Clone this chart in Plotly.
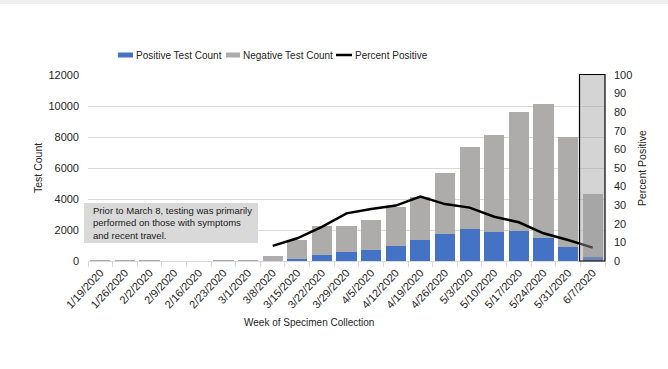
import plotly.graph_objects as go

weeks = ["1/19/2020", "1/26/2020", "2/2/2020", "2/9/2020", "2/16/2020", "2/23/2020",
         "3/1/2020", "3/8/2020", "3/15/2020", "3/22/2020", "3/29/2020", "4/5/2020",
         "4/12/2020", "4/19/2020", "4/26/2020", "5/3/2020", "5/10/2020", "5/17/2020",
         "5/24/2020", "5/31/2020", "6/7/2020"]
positive = [0, 0, 0, 0, 0, 0, 0, 20, 150, 400, 560, 710, 990, 1360, 1760, 2070,
            1900, 1940, 1510, 910, 280]
negative = [40, 50, 45, 0, 0, 30, 40, 280, 1230, 1830, 1670, 1940, 2470, 2790,
            3940, 5260, 6230, 7650, 8640, 7110, 4040]
percent = [None, None, None, None, None, None, None, 8.1, 12.2, 18.4, 25.6, 28.0,
           29.8, 34.6, 30.6, 28.7, 23.8, 20.8, 14.9, 11.3, 7.2]
y_ticks = [0, 2000, 4000, 6000, 8000, 10000, 12000]
pct_ticks = [0, 10, 20, 30, 40, 50, 60, 70, 80, 90, 100]
series_names = ["Positive Test Count", "Negative Test Count", "Percent Positive"]
series_colors = ["#4472C4", "#AEABAB", "black"]

FONT = "Liberation Sans, Arial, sans-serif"
TXT = "#262626"

fig = go.Figure()
fig.add_trace(go.Bar(x=weeks, y=positive, name=series_names[0],
                     marker=dict(color=series_colors[0], line=dict(width=0))))
fig.add_trace(go.Bar(x=weeks, y=negative, name=series_names[1],
                     marker=dict(color=series_colors[1], line=dict(width=0))))
fig.add_trace(go.Scatter(x=weeks, y=percent, name=series_names[2], yaxis="y2",
                         mode="lines", line=dict(color=series_colors[2], width=2.5)))

W, H = 668, 369
L, R, T, B = 88, 63, 75, 108
pw, ph = W - L - R, H - T - B

def px(x):
    return (x - L) / pw

def py(y):
    return (H - B - y) / ph

fig.update_layout(
    width=W, height=H,
    margin=dict(l=L, r=R, t=T, b=B, autoexpand=False),
    paper_bgcolor="white", plot_bgcolor="white",
    barmode="stack", bargap=0.18,
    font=dict(family=FONT, size=11, color=TXT),
    showlegend=False,
    xaxis=dict(type="category", tickangle=-47, ticks="outside", tickson="boundaries",
               ticklen=5, tickcolor="#d9d9d9", showline=True, linecolor="#d9d9d9",
               linewidth=1, showgrid=False, automargin=False,
               tickfont=dict(family=FONT, size=11, color=TXT)),
    yaxis=dict(range=[0, 12000], tickvals=y_ticks, tickformat="d", showgrid=True,
               gridcolor="#d9d9d9", gridwidth=1, zeroline=False, ticks="",
               ticklabelstandoff=8, automargin=False,
               tickfont=dict(family=FONT, size=11, color=TXT)),
    yaxis2=dict(range=[0, 100], tickvals=pct_ticks, overlaying="y", side="right",
                showgrid=False, zeroline=False, ticks="", ticklabelstandoff=8,
                automargin=False, tickfont=dict(family=FONT, size=11, color=TXT)),
)

shapes = [
    # top page band
    dict(type="rect", xref="paper", yref="paper", x0=px(0), x1=px(W), y0=py(4), y1=py(0),
         fillcolor="#eeeeee", line=dict(width=0), layer="below"),
    # note box background
    dict(type="rect", xref="paper", yref="paper", x0=px(84), x1=px(258), y0=py(243), y1=py(203),
         fillcolor="#d9d9d9", line=dict(width=0), layer="above"),
    # highlighted last week
    dict(type="rect", xref="paper", yref="paper", x0=px(579.5), x1=px(605), y0=py(261), y1=py(74.5),
         fillcolor="rgba(160,160,160,0.45)", line=dict(color="black", width=1.2), layer="above"),
    # legend swatches
    dict(type="rect", xref="paper", yref="paper", x0=px(118), x1=px(133), y0=py(57.5), y1=py(52.5),
         fillcolor=series_colors[0], line=dict(width=0)),
    dict(type="rect", xref="paper", yref="paper", x0=px(226), x1=px(240), y0=py(57.5), y1=py(52.5),
         fillcolor=series_colors[1], line=dict(width=0)),
    dict(type="line", xref="paper", yref="paper", x0=px(336), x1=px(352), y0=py(55), y1=py(55),
         line=dict(color=series_colors[2], width=2.5)),
]
fig.update_layout(shapes=shapes)

LF = 10
annotations = [
    dict(text="Prior to March 8, testing was primarily<br>performed on those with symptoms<br>and recent travel.",
         xref="paper", yref="paper", x=px(91), y=py(223), xanchor="left", yanchor="middle",
         align="left", showarrow=False, font=dict(family=FONT, size=9.5, color="#1a1a1a")),
    dict(text="Test Count", xref="paper", yref="paper", x=px(38), y=0.5, textangle=-90,
         showarrow=False, xanchor="center", yanchor="middle",
         font=dict(family=FONT, size=10.5, color=TXT)),
    dict(text="Percent Positive", xref="paper", yref="paper", x=px(642), y=0.5, textangle=-90,
         showarrow=False, xanchor="center", yanchor="middle",
         font=dict(family=FONT, size=10.5, color=TXT)),
    dict(text="Week of Specimen Collection", xref="paper", yref="paper", x=px(309), y=py(322),
         showarrow=False, xanchor="center", yanchor="middle",
         font=dict(family=FONT, size=10, color=TXT)),
    dict(text=series_names[0], xref="paper", yref="paper", x=px(134), y=py(55),
         xanchor="left", yanchor="middle", showarrow=False,
         font=dict(family=FONT, size=LF, color=TXT)),
    dict(text=series_names[1], xref="paper", yref="paper", x=px(241), y=py(55),
         xanchor="left", yanchor="middle", showarrow=False,
         font=dict(family=FONT, size=LF, color=TXT)),
    dict(text=series_names[2], xref="paper", yref="paper", x=px(353), y=py(55),
         xanchor="left", yanchor="middle", showarrow=False,
         font=dict(family=FONT, size=LF, color=TXT)),
]
fig.update_layout(annotations=annotations)

fig.write_html("out.html", config={"displayModeBar": False},
               post_script="document.body.style.margin='0';document.body.style.overflow='hidden';")
